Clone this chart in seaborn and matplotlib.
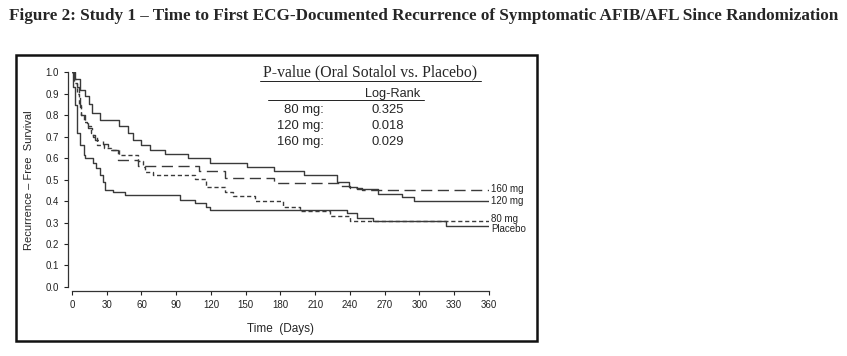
import matplotlib
matplotlib.use('Agg')
import matplotlib.pyplot as plt
import seaborn as sns
import pandas as pd
from matplotlib.patches import Rectangle

# Kaplan-Meier step values (days, survival)
days_placebo = [0, 1, 2.6, 4, 7, 10, 11, 18, 21, 24, 27, 28.5, 35, 46, 93, 106, 116, 119, 237, 246, 260, 323, 360]
surv_placebo = [1.0, 0.93, 0.85, 0.72, 0.66, 0.615, 0.60, 0.577, 0.553, 0.52, 0.49, 0.452, 0.444, 0.43, 0.405, 0.39, 0.375, 0.359, 0.343, 0.323, 0.307, 0.284, 0.284]

days_80 = [0, 2, 4, 6, 8, 10, 13, 16, 18, 22, 28, 34, 41, 57, 61, 63, 70, 106, 116, 132, 139, 158, 182, 197, 223, 240, 360]
surv_80 = [1.0, 0.95, 0.90, 0.85, 0.80, 0.77, 0.75, 0.72, 0.70, 0.66, 0.65, 0.64, 0.615, 0.585, 0.56, 0.537, 0.522, 0.502, 0.465, 0.444, 0.424, 0.40, 0.374, 0.354, 0.331, 0.307, 0.307]

days_120 = [0, 3, 7, 11, 15, 17, 24, 41, 48, 53, 60, 67, 80, 100, 119, 151, 174, 200, 229, 239, 246, 264, 285, 295, 360]
surv_120 = [1.0, 0.97, 0.92, 0.89, 0.855, 0.81, 0.78, 0.75, 0.72, 0.685, 0.66, 0.64, 0.62, 0.60, 0.577, 0.56, 0.54, 0.52, 0.49, 0.467, 0.455, 0.435, 0.42, 0.40, 0.40]

days_160 = [0, 2, 4, 6, 7, 8, 11, 14, 17, 20, 27, 31, 40, 57, 110, 132, 174, 232, 240, 250, 360]
surv_160 = [1.0, 0.97, 0.93, 0.90, 0.84, 0.80, 0.77, 0.74, 0.71, 0.685, 0.665, 0.64, 0.59, 0.565, 0.542, 0.51, 0.483, 0.47, 0.46, 0.452, 0.452]

group_labels = ['160 mg', '120 mg', '80 mg', 'Placebo']
label_y = [0.456, 0.40, 0.318, 0.268]

dose_rows = ['80 mg:', '120 mg:', '160 mg:']
logrank_p = ['0.325', '0.018', '0.029']

x_ticks = list(range(0, 361, 30))
y_ticks = [0.0, 0.1, 0.2, 0.3, 0.4, 0.5, 0.6, 0.7, 0.8, 0.9, 1.0]

sns.set_style('ticks')
plt.rcParams['font.family'] = ['Liberation Sans', 'DejaVu Sans']

fig = plt.figure(figsize=(8.47, 3.56), dpi=100)
ax = fig.add_axes([0.085, 0.194, 0.4923, 0.6025])

col = '#3a3a3a'
series = [
    (days_placebo, surv_placebo, '-'),
    (days_80, surv_80, (0, (3, 2))),
    (days_120, surv_120, '-'),
    (days_160, surv_160, (0, (8, 4))),
]
for d, s, ls in series:
    df = pd.DataFrame({'day': d, 'surv': s})
    sns.lineplot(data=df, x='day', y='surv', ax=ax, drawstyle='steps-post',
                 color=col, linewidth=1.0, linestyle=ls, estimator=None, sort=False)

ax.set_xlim(0, 360)
ax.set_ylim(0, 1.0)
ax.set_xticks(x_ticks)
ax.set_yticks(y_ticks)
ax.set_yticklabels([f'{v:.1f}' for v in y_ticks])
ax.tick_params(labelsize=7, length=3, width=0.8, colors='#222222')
ax.set_xlabel('Time  (Days)', fontsize=8.5, labelpad=9)
ax.set_ylabel('Recurrence \u2013 Free  Survival', fontsize=8, labelpad=8)
sns.despine(ax=ax, offset=3)
for sp in ['left', 'bottom']:
    ax.spines[sp].set_linewidth(0.9)
    ax.spines[sp].set_color('#333333')

for lab, yv in zip(group_labels, label_y):
    ax.text(362, yv, lab, fontsize=7, va='center', ha='left', color='#222222', clip_on=False)

# p-value box
ax.text(0.715, 0.998, 'P-value (Oral Sotalol vs. Placebo)', transform=ax.transAxes,
        ha='center', va='center', fontsize=11.3, family=['Liberation Serif'])
ax.plot([0.452, 0.98], [0.962, 0.962], transform=ax.transAxes, color='#222', lw=0.7, clip_on=False)
ax.text(0.768, 0.898, 'Log-Rank', transform=ax.transAxes, ha='center', va='center', fontsize=9.2)
ax.plot([0.47, 0.843], [0.872, 0.872], transform=ax.transAxes, color='#222', lw=0.7)
for i, (r, p) in enumerate(zip(dose_rows, logrank_p)):
    yy = 0.825 - i * 0.075
    ax.text(0.603, yy, r, transform=ax.transAxes, ha='right', va='center', fontsize=9.4)
    ax.text(0.757, yy, p, transform=ax.transAxes, ha='center', va='center', fontsize=9.4)

# frame around the chart
fig.patches.append(Rectangle((16 / 847, 1 - 341 / 356), 521 / 847, 286 / 356,
                             transform=fig.transFigure, fill=False,
                             edgecolor='#111111', linewidth=1.8))

fig.text(0.5, 1 - 16 / 356,
         'Figure 2: Study 1 \u2013 Time to First ECG-Documented Recurrence of Symptomatic AFIB/AFL Since Randomization',
         ha='center', va='center', fontsize=12.3, fontweight='bold', family=['Liberation Serif'])

fig.savefig('out.png', dpi=100)
